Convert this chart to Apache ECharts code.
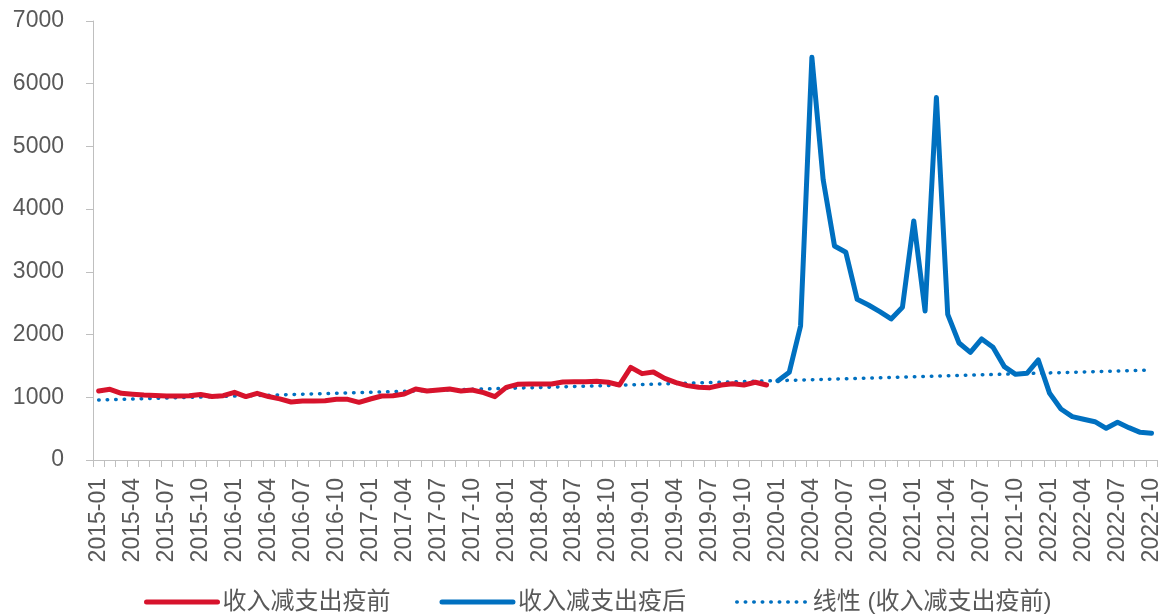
<!DOCTYPE html>
<html>
<head>
<meta charset="utf-8">
<script src="https://cdn.jsdelivr.net/npm/echarts@6/dist/echarts.min.js"></script>
<style>
  html, body { margin: 0; padding: 0; background: #fff; }
  #chart { width: 1163px; height: 614px; }
</style>
</head>
<body>
<div id="chart"></div>
<script>
// months 2015-01 .. 2022-10
const months = [];
for (let y = 2015; y <= 2022; y++) {
  for (let m = 1; m <= 12; m++) {
    if (y === 2022 && m > 10) break;
    months.push(y + '-' + (m < 10 ? '0' + m : m));
  }
}

// 收入减支出 疫前 2015-01 .. 2019-12
const preCovid = [
  1100, 1127, 1063, 1047, 1035, 1028, 1022, 1020, 1026, 1045, 1012, 1026,
  1079, 1012, 1063, 1012, 975, 925, 941, 941, 946, 968, 968, 920,
  973, 1020, 1026, 1053, 1132, 1100, 1116, 1132, 1100, 1116, 1074, 1010,
  1159, 1207, 1212, 1212, 1212, 1244, 1249, 1249, 1254, 1239, 1196, 1478,
  1377, 1403, 1302, 1233, 1186, 1159, 1154, 1196, 1217, 1196, 1239, 1196
];
// 收入减支出 疫后 2020-01 .. 2022-10
const postCovid = [
  1265, 1398, 2137, 6422, 4466, 3413, 3312, 2562, 2472, 2366, 2249, 2435,
  3812, 2376, 5779, 2323, 1866, 1717, 1930, 1797, 1489, 1366, 1382, 1595,
  1063, 813, 691, 649, 611, 505, 601, 516, 441, 425
];
// 线性趋势 (两端读数)
const trendMonths = ['2015-01', '2022-10'];
const trendValues = [957, 1435];

const yTicks = { min: 0, max: 7000, interval: 1000 };

const names = ['收入减支出疫前', '收入减支出疫后', '线性 (收入减支出疫前)'];
const red = '#D7132C';
const blue = '#0070C0';
const grey = '#595959';
const font = "'Liberation Sans', 'Noto Sans CJK SC', sans-serif";

const preData = months.map((m, i) => i < preCovid.length ? preCovid[i] : null);
const postData = months.map((m, i) => i >= preCovid.length ? postCovid[i - preCovid.length] : null);
const trendData = trendMonths.map((m, i) => [m, trendValues[i]]);

const chart = echarts.init(document.getElementById('chart'));
chart.setOption({
  animation: false,
  textStyle: { fontFamily: font },
  grid: { left: 93, right: 5, top: 21, bottom: 154 },
  legend: {
    left: 139,
    top: 585,
    itemWidth: 71,
    itemHeight: 14,
    itemGap: 49,
    textStyle: { fontSize: 24, color: grey, fontFamily: font },
    data: [
      { name: names[0], lineStyle: { width: 5 }, itemStyle: { opacity: 0 } },
      { name: names[1], lineStyle: { width: 5 }, itemStyle: { opacity: 0 } },
      { name: names[2], lineStyle: { width: 3.5 }, itemStyle: { opacity: 0 } }
    ]
  },
  xAxis: {
    type: 'category',
    data: months,
    boundaryGap: true,
    axisLine: { lineStyle: { color: '#BFBFBF', width: 1 } },
    axisTick: { show: true, interval: 0, length: 7, lineStyle: { color: '#BFBFBF' } },
    axisLabel: { interval: 2, rotate: 90, margin: 18, fontSize: 23, color: grey, fontFamily: font },
    splitLine: { show: false }
  },
  yAxis: {
    type: 'value',
    min: yTicks.min,
    max: yTicks.max,
    interval: yTicks.interval,
    axisLine: { show: true, lineStyle: { color: '#BFBFBF', width: 1 } },
    axisTick: { show: true, length: 7, lineStyle: { color: '#BFBFBF' } },
    axisLabel: { margin: 29, fontSize: 23, color: grey, fontFamily: font, formatter: v => String(v) },
    splitLine: { show: false }
  },
  series: [
    {
      name: names[0], type: 'line', data: preData,
      symbol: 'none', connectNulls: false,
      lineStyle: { color: red, width: 5, join: 'round', cap: 'round' },
      itemStyle: { color: red }
    },
    {
      name: names[1], type: 'line', data: postData,
      symbol: 'none', connectNulls: false,
      lineStyle: { color: blue, width: 5, join: 'round', cap: 'round' },
      itemStyle: { color: blue }
    },
    {
      name: names[2], type: 'line', data: trendData,
      symbol: 'none', z: 1,
      lineStyle: { color: blue, width: 3.5, type: [0.5, 8], cap: 'round' },
      itemStyle: { color: blue }
    }
  ]
});
</script>
</body>
</html>
